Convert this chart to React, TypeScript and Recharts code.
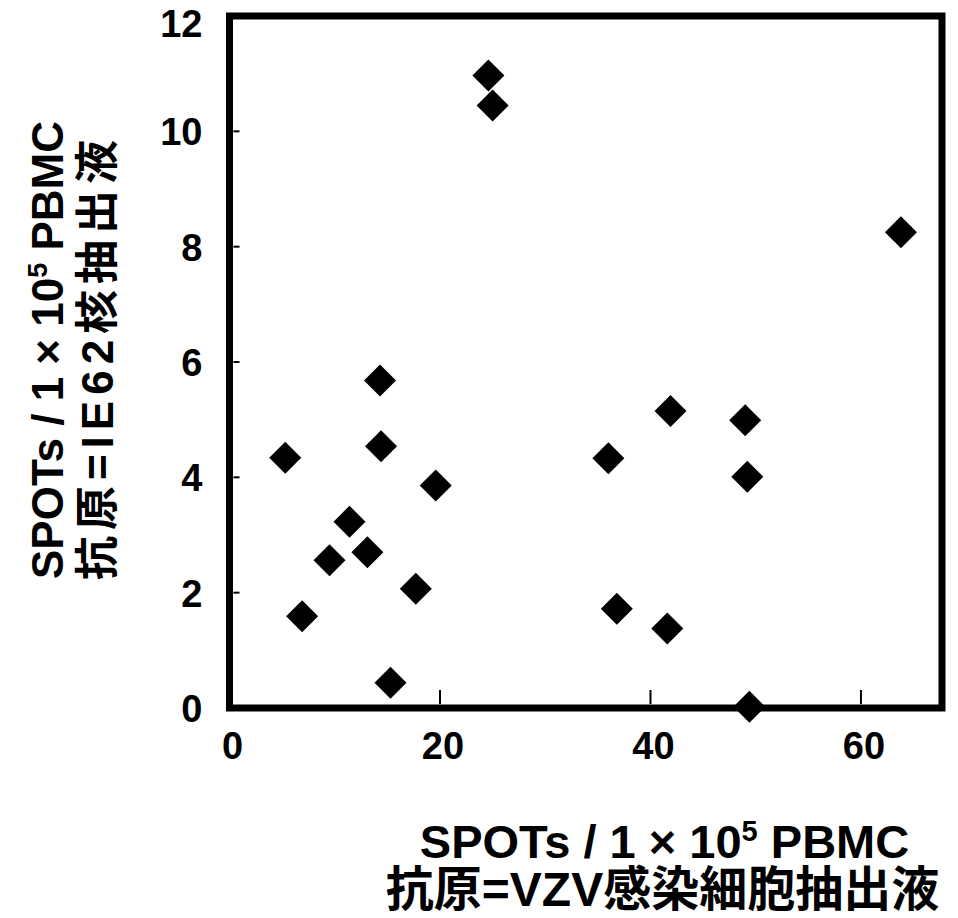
import { ScatterChart, Scatter, XAxis, YAxis, ReferenceArea, Label } from "recharts"

// SPOTs / 1x10^5 PBMC, antigen = VZV infected cell extract (x) vs IE62 nuclear extract (y)
const spotsVZV = [5.3, 6.9, 9.5, 11.4, 13.1, 14.3, 14.4, 15.3, 17.7, 19.6, 24.6, 25.0, 36.0, 36.8, 41.6, 41.9, 49.0, 49.2, 49.4, 63.8]
const spotsIE62 = [4.34, 1.59, 2.56, 3.23, 2.7, 5.68, 4.54, 0.44, 2.07, 3.86, 10.97, 10.45, 4.33, 1.72, 1.38, 5.15, 4.99, 4.01, 0.02, 8.25]
const xTicks = [0, 20, 40, 60]
const yTicks = [0, 2, 4, 6, 8, 10, 12]

const points = spotsVZV.map((x, i) => ({ x, y: spotsIE62[i] }))

const FONT = '"Liberation Sans", Arial, "Noto Sans CJK JP", sans-serif'
const CJK = '"Liberation Sans", "Noto Sans CJK JP", sans-serif'

function Diamond(props: any) {
  const { cx, cy } = props
  const r = 16
  return <path d={`M${cx},${cy - r} L${cx + r},${cy} L${cx},${cy + r} L${cx - r},${cy} Z`} fill="#000" />
}

function XTick({ x, y, payload }: any) {
  return (
    <g>
      <line x1={x} x2={x} y1={y - 4} y2={y - 18} stroke="#000" strokeWidth={2} />
      <text x={x + 3} y={y + 51} textAnchor="middle" fontSize={38} fontWeight="bold" fontFamily={FONT} fill="#000">
        {payload.value}
      </text>
    </g>
  )
}

function YTick({ x, y, payload }: any) {
  // top label sits a bit lower in the original so it stays on the page
  const base = Math.max(y + 14, 37)
  return (
    <g>
      <line x1={x + 4} x2={x + 10} y1={y} y2={y} stroke="#000" strokeWidth={2} />
      <text x={x - 27} y={base} textAnchor="end" fontSize={38} fontWeight="bold" fontFamily={FONT} fill="#000">
        {payload.value}
      </text>
    </g>
  )
}

function XTitle({ viewBox }: any) {
  const left = viewBox.x
  const top = viewBox.y
  return (
    <g fontFamily={CJK} fontWeight="bold" fill="#000" textAnchor="middle">
      <text x={left + 435} y={top + 150} fontSize={47}>
        SPOTs / 1 × 10<tspan dy={-17} fontSize={29}>5</tspan>
        <tspan dy={17}> PBMC</tspan>
      </text>
      <text x={left + 433} y={top + 198} fontSize={48}>
        抗原=VZV感染細胞抽出液
      </text>
    </g>
  )
}

function YTitle({ viewBox }: any) {
  const c1 = viewBox.y + 334
  const c2 = viewBox.y + 341
  const l1 = 63
  const l2 = 113
  return (
    <g fontFamily={CJK} fontWeight="bold" fill="#000" textAnchor="middle">
      <text x={l1} y={c1} fontSize={44} transform={`rotate(-90, ${l1}, ${c1})`}>
        SPOTs / 1 × 10<tspan dy={-16} fontSize={27}>5</tspan>
        <tspan dy={16}> PBMC</tspan>
      </text>
      <text x={l2} y={c2} fontSize={44} letterSpacing={6} transform={`rotate(-90, ${l2}, ${c2})`}>
        抗原=IE62核抽出液
      </text>
    </g>
  )
}

export default function App() {
  return (
    <div style={{ width: 958, height: 918, marginTop: -8, marginLeft: -8, background: "#fff" }}>
      <ScatterChart width={958} height={918} margin={{ top: 16, right: 16, left: 0, bottom: 0 }}>
        <XAxis
          type="number"
          dataKey="x"
          domain={[0, 67.7]}
          ticks={xTicks}
          axisLine={false}
          tickLine={false}
          tickSize={0}
          tickMargin={0}
          height={210}
          tick={<XTick />}
        >
          <Label content={<XTitle />} />
        </XAxis>
        <YAxis
          type="number"
          dataKey="y"
          domain={[0, 12]}
          ticks={yTicks}
          axisLine={false}
          tickLine={false}
          tickSize={0}
          tickMargin={0}
          width={229.5}
          tick={<YTick />}
        >
          <Label content={<YTitle />} />
        </YAxis>
        <ReferenceArea x1={0} x2={67.7} y1={0} y2={12} fill="none" stroke="#000" strokeWidth={7} fillOpacity={0} />
        <Scatter data={points} shape={<Diamond />} isAnimationActive={false} />
      </ScatterChart>
    </div>
  )
}
